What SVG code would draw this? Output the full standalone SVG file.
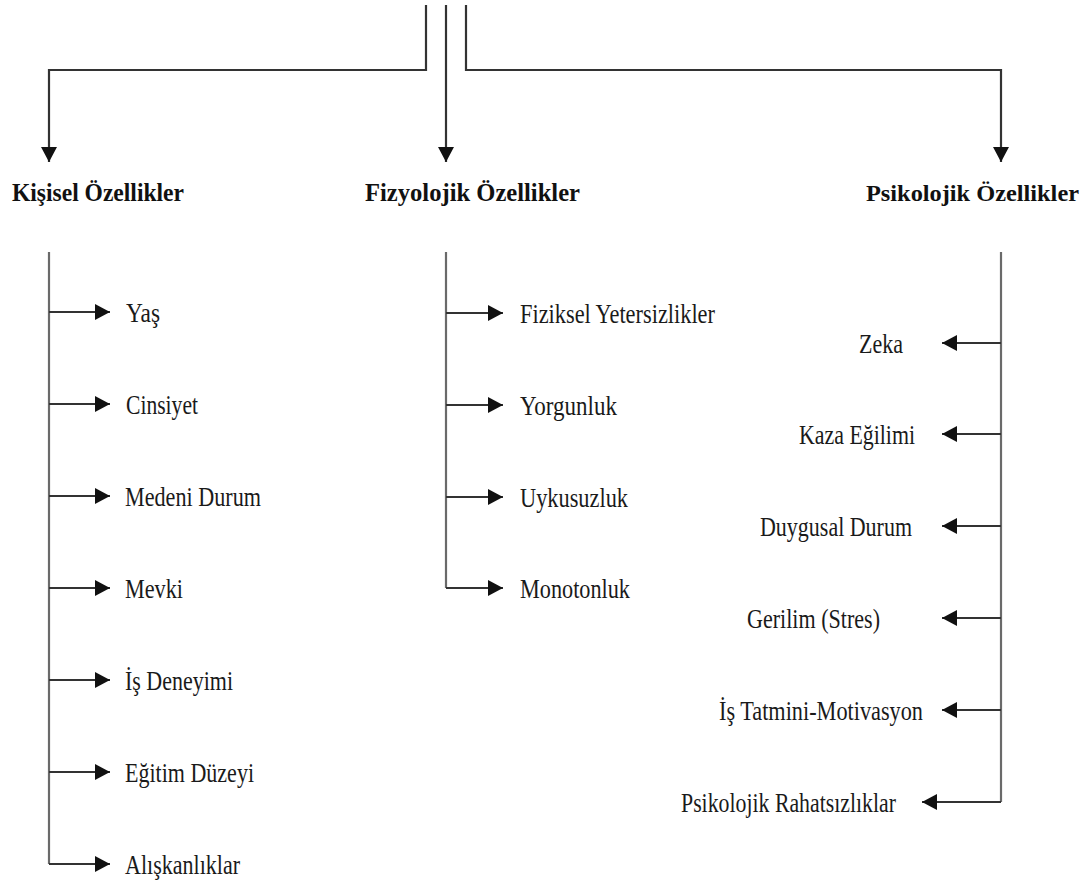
<svg xmlns="http://www.w3.org/2000/svg" width="1090" height="886" viewBox="0 0 1090 886">
<defs>
<marker id="ah" markerUnits="userSpaceOnUse" markerWidth="18" markerHeight="18" refX="15" refY="8" orient="auto">
<path d="M0,0 L15,8 L0,16 Z" fill="#111"/>
</marker>
</defs>
<style>
.ln{stroke:#333;stroke-width:2.2;fill:none}
.vl{stroke:#6a6a6a;stroke-width:2.2;fill:none}
.t{font-family:"Times New Roman","Liberation Serif","DejaVu Serif",serif;font-size:28px;fill:#1a1a1a}
.h{font-family:"Times New Roman","Liberation Serif","DejaVu Serif",serif;font-size:26px;font-weight:bold;fill:#111}
</style>
<rect width="1090" height="886" fill="#fff"/>
<g id="connectors">
<path class="ln" d="M426,5 V70 H49 V162" marker-end="url(#ah)"/>
<path class="ln" d="M446,5 V162" marker-end="url(#ah)"/>
<path class="ln" d="M466,5 V70 H1001 V162" marker-end="url(#ah)"/>
<path class="vl" d="M49,252 V864"/>
<path class="ln" d="M49,312 H110" marker-end="url(#ah)"/>
<path class="ln" d="M49,404 H110" marker-end="url(#ah)"/>
<path class="ln" d="M49,496 H110" marker-end="url(#ah)"/>
<path class="ln" d="M49,588 H110" marker-end="url(#ah)"/>
<path class="ln" d="M49,680 H110" marker-end="url(#ah)"/>
<path class="ln" d="M49,772 H110" marker-end="url(#ah)"/>
<path class="ln" d="M49,864 H110" marker-end="url(#ah)"/>
<path class="vl" d="M446,252 V588"/>
<path class="ln" d="M446,313 H503" marker-end="url(#ah)"/>
<path class="ln" d="M446,405 H503" marker-end="url(#ah)"/>
<path class="ln" d="M446,497 H503" marker-end="url(#ah)"/>
<path class="ln" d="M446,588 H503" marker-end="url(#ah)"/>
<path class="vl" d="M1001,252 V802"/>
<path class="ln" d="M1001,343 H942" marker-end="url(#ah)"/>
<path class="ln" d="M1001,434 H942" marker-end="url(#ah)"/>
<path class="ln" d="M1001,526 H942" marker-end="url(#ah)"/>
<path class="ln" d="M1001,618 H942" marker-end="url(#ah)"/>
<path class="ln" d="M1001,710 H942" marker-end="url(#ah)"/>
<path class="ln" d="M1001,802 H922" marker-end="url(#ah)"/>
</g>
<g id="kisisel"><text class="h" x="12" y="201" textLength="172" lengthAdjust="spacingAndGlyphs">Kişisel Özellikler</text></g>
<g id="fizyolojik"><text class="h" x="365" y="201" textLength="215" lengthAdjust="spacingAndGlyphs">Fizyolojik Özellikler</text></g>
<g id="psikolojik"><text class="h" x="866" y="201" font-size="24" textLength="213" lengthAdjust="spacingAndGlyphs" style="font-size:24px">Psikolojik Özellikler</text></g>
<g id="yas"><text class="t" x="126" y="322" textLength="34" lengthAdjust="spacingAndGlyphs">Yaş</text></g>
<g id="cinsiyet"><text class="t" x="126" y="414" textLength="72" lengthAdjust="spacingAndGlyphs">Cinsiyet</text></g>
<g id="medeni"><text class="t" x="125" y="506" textLength="136" lengthAdjust="spacingAndGlyphs">Medeni Durum</text></g>
<g id="mevki"><text class="t" x="125" y="598" textLength="58" lengthAdjust="spacingAndGlyphs">Mevki</text></g>
<g id="deneyim"><text class="t" x="125" y="690" textLength="108" lengthAdjust="spacingAndGlyphs">İş Deneyimi</text></g>
<g id="egitim"><text class="t" x="125" y="782" textLength="129" lengthAdjust="spacingAndGlyphs">Eğitim Düzeyi</text></g>
<g id="aliskanlik"><text class="t" x="125" y="874" textLength="115" lengthAdjust="spacingAndGlyphs">Alışkanlıklar</text></g>
<g id="fiziksel"><text class="t" x="520" y="323" textLength="195" lengthAdjust="spacingAndGlyphs">Fiziksel Yetersizlikler</text></g>
<g id="yorgunluk"><text class="t" x="520" y="415" textLength="97" lengthAdjust="spacingAndGlyphs">Yorgunluk</text></g>
<g id="uykusuzluk"><text class="t" x="520" y="507" textLength="108" lengthAdjust="spacingAndGlyphs">Uykusuzluk</text></g>
<g id="monotonluk"><text class="t" x="520" y="598" textLength="110" lengthAdjust="spacingAndGlyphs">Monotonluk</text></g>
<g id="zeka"><text class="t" x="859" y="353" textLength="44" lengthAdjust="spacingAndGlyphs">Zeka</text></g>
<g id="kaza"><text class="t" x="799" y="444" textLength="116" lengthAdjust="spacingAndGlyphs">Kaza Eğilimi</text></g>
<g id="duygusal"><text class="t" x="760" y="536" textLength="152" lengthAdjust="spacingAndGlyphs">Duygusal Durum</text></g>
<g id="gerilim"><text class="t" x="747" y="628" textLength="133" lengthAdjust="spacingAndGlyphs">Gerilim (Stres)</text></g>
<g id="tatmin"><text class="t" x="719" y="720" textLength="204" lengthAdjust="spacingAndGlyphs">İş Tatmini-Motivasyon</text></g>
<g id="rahatsizlik"><text class="t" x="681" y="812" textLength="215" lengthAdjust="spacingAndGlyphs">Psikolojik Rahatsızlıklar</text></g>
</svg>
